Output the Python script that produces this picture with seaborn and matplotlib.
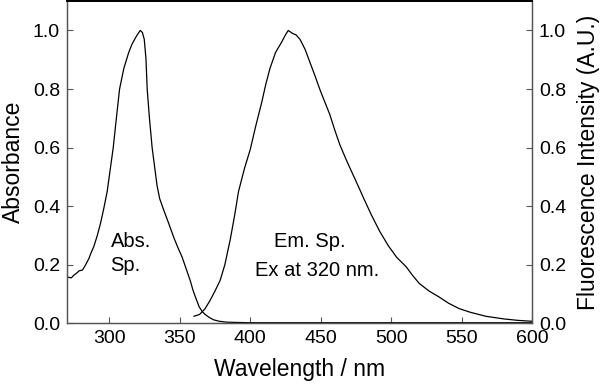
import matplotlib
matplotlib.use("Agg")
import matplotlib.pyplot as plt
import seaborn as sns

# absorption spectrum
abs_wl = [270, 271.4, 273, 275, 277, 278.5, 281, 283, 285.6, 287, 289, 291.5, 293.8, 296, 298.5,
          300.5, 302.8, 305, 307.3, 310.3, 313.8, 316, 318.6, 320.5, 322, 323.5, 324.8, 326,
          326.9, 328.5, 330.4, 333.9, 335.8, 338, 342.1, 346, 349, 351.6, 355, 357.5, 359.4,
          361.5, 363.8, 366, 368, 371, 374, 378, 383, 390, 400, 450, 500, 550, 600]
abs_val = [0.157, 0.157, 0.155, 0.165, 0.172, 0.179, 0.182, 0.198, 0.222, 0.24, 0.262, 0.3, 0.342,
           0.39, 0.45, 0.52, 0.6, 0.7, 0.8, 0.87, 0.925, 0.952, 0.975, 0.99, 1.0, 0.993, 0.97, 0.905,
           0.8, 0.7, 0.6, 0.47, 0.425, 0.395, 0.342, 0.29, 0.255, 0.227, 0.18, 0.145, 0.113,
           0.085, 0.056, 0.04, 0.03, 0.02, 0.012, 0.007, 0.004, 0.003, 0.002, 0.002, 0.002, 0.002, 0.002]

# emission spectrum (ex 320 nm)
em_wl = [360, 364, 368, 371.6, 375, 378.7, 382, 385.8, 389, 391.7, 396, 400, 404, 408.2, 411, 414,
         418, 422.3, 425, 427, 430, 432.5, 435.3, 439, 442.4, 446, 449.4, 453, 456.5, 460, 463.6,
         468, 473, 477, 481, 486, 491.8, 498, 504, 510.7, 515, 520, 527, 534, 541, 548.4, 556,
         567.2, 580, 590, 600]
em_val = [0.024, 0.03, 0.05, 0.079, 0.11, 0.147, 0.2, 0.285, 0.37, 0.45, 0.53, 0.593, 0.675, 0.755,
          0.815, 0.87, 0.925, 0.96, 0.985, 1.0, 0.99, 0.985, 0.97, 0.935, 0.891, 0.845, 0.799, 0.755,
          0.713, 0.66, 0.61, 0.56, 0.507, 0.465, 0.422, 0.37, 0.315, 0.265, 0.225, 0.193, 0.165,
          0.136, 0.11, 0.09, 0.068, 0.05, 0.038, 0.024, 0.015, 0.01, 0.007]

sns.set_style("ticks")
plt.rcParams["font.family"] = ["Liberation Sans", "DejaVu Sans"]
plt.rcParams["text.color"] = "black"
plt.rcParams["axes.labelcolor"] = "black"

fig = plt.figure(figsize=(6, 3.9), dpi=100)
ax = fig.add_axes([0.1117, 0.171, 0.775, 0.826])
ax2 = ax.twinx()

sns.lineplot(x=abs_wl, y=abs_val, ax=ax, color="black", linewidth=0.9)
sns.lineplot(x=em_wl, y=em_val, ax=ax2, color="black", linewidth=0.9)

for a in (ax, ax2):
    a.set_xlim(270, 600)
    a.set_ylim(0, 1.1)
    a.set_yticks([0.0, 0.2, 0.4, 0.6, 0.8, 1.0])
    a.set_yticklabels(["0.0", "0.2", "0.4", "0.6", "0.8", "1.0"])
    a.tick_params(direction="in", length=4, width=0.8, labelsize=14, color="#555555",
                  labelcolor="black", pad=5)
    for s in ["left", "right", "bottom"]:
        a.spines[s].set_color("#555555")
        a.spines[s].set_linewidth(0.9)
    a.spines["top"].set_color("black")
    a.spines["top"].set_linewidth(1.4)
    a.spines["top"].set_visible(True)
    a.spines["right"].set_visible(True)

ax.set_xticks([300, 350, 400, 450, 500, 550, 600])
ax.set_xlabel("Wavelength / nm", fontsize=16.5, labelpad=8)
ax.set_ylabel("Absorbance", fontsize=16.5, labelpad=6)
ax2.set_ylabel("Fluorescence Intensity (A.U.)", fontsize=16.5, labelpad=8)

ax.text(300.9, 0.26, "Abs.", fontsize=14.5, va="baseline", ha="left")
ax.text(300.9, 0.178, "Sp.", fontsize=14.5, va="baseline", ha="left")
ax.text(442.4, 0.261, "Em. Sp.", fontsize=14.5, va="baseline", ha="center")
ax.text(447.3, 0.161, "Ex at 320 nm.", fontsize=14.5, va="baseline", ha="center")

fig.savefig("out.png", dpi=100)
